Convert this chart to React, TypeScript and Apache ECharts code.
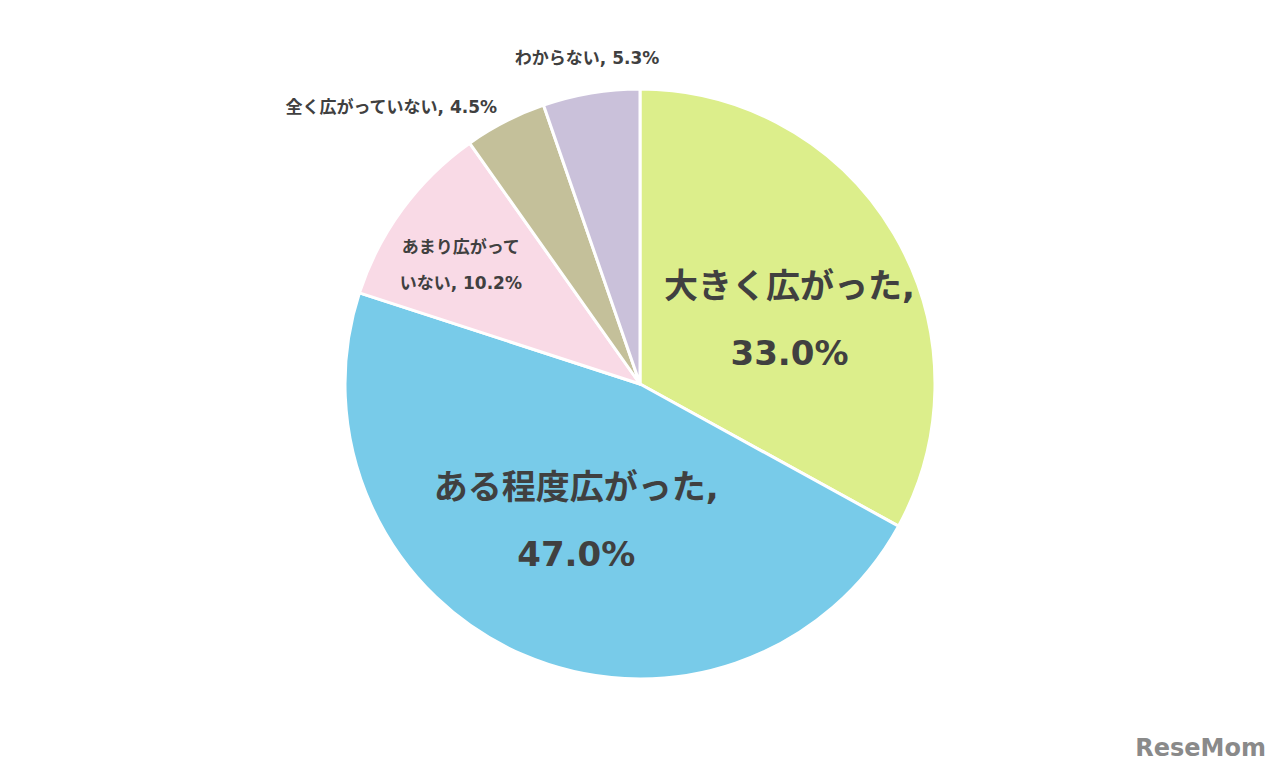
import React, { useEffect, useRef } from "react";
import * as echarts from "echarts";

const categories = ["大きく広がった", "ある程度広がった", "あまり広がって\nいない", "全く広がっていない", "わからない"];
const values = [33.0, 47.0, 10.2, 4.5, 5.3];
const colors = ["#dcee8b", "#78cbe9", "#f9dae6", "#c4c09a", "#cac1da"];
const labelShift = [[20, 12], [-4, -2], [-58, -30], [-180, -143], [-28, -178]];

export default function App() {
  const ref = useRef<HTMLDivElement>(null);
  useEffect(() => {
    const chart = echarts.init(ref.current!, null, { renderer: "svg" });
    const big = { fontSize: 34, lineHeight: 67 };
    const small = { fontSize: 17, lineHeight: 36 };
    chart.setOption({
      animation: false,
      backgroundColor: "#ffffff",
      series: [
        {
          type: "pie",
          center: [640, 384],
          radius: [0, 295],
          startAngle: 90,
          clockwise: true,
          labelLine: { show: false },
          itemStyle: { borderColor: "#ffffff", borderWidth: 3 },
          label: {
            show: true,
            position: "inside",
            color: "#404040",
            fontFamily: "'DejaVu Sans', 'Noto Sans CJK JP', sans-serif",
            fontWeight: "bold",
          },
          labelLayout: (p: any) => ({ dx: labelShift[p.dataIndex][0], dy: labelShift[p.dataIndex][1] }),
          data: categories.map((c, i) => {
            const isBig = i < 2;
            return {
              name: c,
              value: values[i],
              itemStyle: { color: colors[i] },
              label: {
                ...(isBig ? big : small),
                formatter: isBig
                  ? `${c},\n${values[i].toFixed(1)}%`
                  : `${c}, ${values[i].toFixed(1)}%`,
              },
            };
          }),
        },
      ],
      graphic: [
        {
          type: "text",
          right: 14,
          bottom: 8,
          style: {
            text: "ReseMom",
            fill: "#8a8a8a",
            font: "bold 24px 'DejaVu Sans', sans-serif",
          },
        },
      ],
    });
    return () => chart.dispose();
  }, []);
  return <div ref={ref} style={{ position: "fixed", left: 0, top: 0, width: 1280, height: 768 }} />;
}
